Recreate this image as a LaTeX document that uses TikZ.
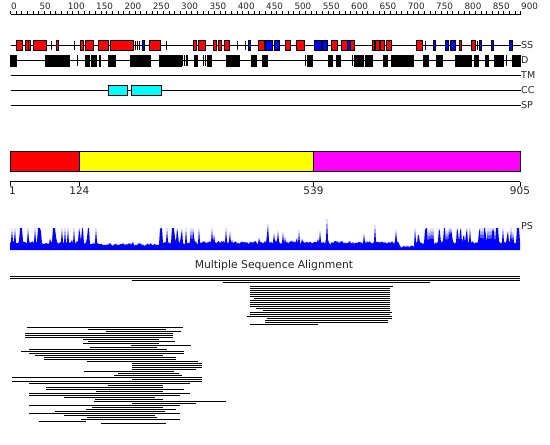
\documentclass[tikz,border=0pt]{standalone}
\usepackage{fontspec}
\setmainfont{DejaVu Sans}
\definecolor{ssred}{RGB}{255,0,0}
\definecolor{ssblue}{RGB}{0,0,255}
\definecolor{cccyan}{RGB}{0,255,255}
\definecolor{dmyellow}{RGB}{255,255,0}
\definecolor{dmmagenta}{RGB}{255,0,255}
\begin{document}
\begin{tikzpicture}[x=1pt,y=-1pt,
  trk/.style={line width=1pt,black},
  boxd/.style={draw=black,line width=0.8pt},
  bar/.style={line width=0.9pt,black},
  msa/.style={line width=1pt,black},
  rlab/.style={anchor=base west,inner sep=0pt,font=\fontsize{8.8}{9}\selectfont,text=black!85},
  tlab/.style={anchor=west,inner sep=0pt,font=\fontsize{9.5}{11}\selectfont,text=black!85},
  dlab/.style={anchor=center,inner sep=0pt,font=\fontsize{10.5}{12}\selectfont,text=black!85},
  declare function={
    psB(\t)=(\t<42)?6:((\t<50)?5:((\t<88)?6:((\t<100)?5:((\t<160)?4:((\t<200)?6:((\t<400)?6:((\t<415)?2:6)))))));
    psP(\t)=(\t<42)?0.4:((\t<50)?0.05:((\t<88)?0.55:((\t<100)?0.2:((\t<160)?0.06:((\t<200)?0.45:((\t<400)?0.14:((\t<415)?0:0.45)))))));
    psS(\t)=(\t<42)?32:((\t<50)?8:((\t<88)?32:((\t<100)?20:((\t<160)?8:((\t<200)?32:((\t<400)?17:((\t<415)?0:32)))))));
    pk(\t)=max(31*max(0,1-abs(\t-327)/1.5),26*max(0,1-abs(\t-268)/1.5),25*max(0,1-abs(\t-375)/1.5),22*max(0,1-abs(\t-96)/1.5),22*max(0,1-abs(\t-212)/1.5));
  }]
\useasboundingbox[fill=white] (0,0) rectangle (550,445);

% ---- ruler ----
\draw[line width=0.8pt] (10.5,14) -- (520.5,14);
\foreach \r in {0,10,...,900} \draw[line width=0.7pt] ({10.5+\r*0.5667},14) -- ++(0,-3);
\foreach \r in {0,50,...,900} \node[rlab] (rl\r) at ({11+\r*0.5667},9.5) {\r};

% ---- track lines ----
\draw[trk] (10.5,45) -- (520.5,45);
\draw[trk] (10.5,60.5) -- (520.5,60.5);
\draw[trk] (10.5,75) -- (520.5,75);
\draw[trk] (10.5,90) -- (520.5,90);
\draw[trk] (10.5,105) -- (520.5,105);
\node[tlab] (lss) at (521,45) {SS};
\node[tlab] (ld) at (521,60.5) {D};
\node[tlab] (ltm) at (521,75) {TM};
\node[tlab] (lcc) at (521,90) {CC};
\node[tlab] (lsp) at (521,105) {SP};

% ---- SS ----
\foreach \a/\b in {16.7/22.3,25.3/28,28.3/30.7,33.3/46.7,56.5/58.5,80/83.3,85/93.7,98.7/108.7,110.3/133.7,149.3/160.7,193.3/196.7,198.3/205.7,213/216.7,218.3/221.7,224.3/229.7,258.3/264.3,285/290.7,296.7/304.3,331.7/337.3,341.7/347.3,350.7/354,372/374.3,375.3/379.7,380.3/384.7,386/391,416.7/422.3,459.3/461,471.3/475.7}
  \filldraw[boxd,fill=ssred] (\a,40.5) rectangle (\b,50);
\foreach \a/\b in {142.7/144,248.3/250.3,265.7/272.7,274.3/279,314.3/321.7,322.3/327.3,347.7/350.3,433.3/435.7,445/448.3,450.3/455.7,479/481.7,491/493.7,509.3/512}
  \filldraw[boxd,fill=ssblue] (\a,40.5) rectangle (\b,50);
\foreach \x in {51.7,74.7,135,137,139,166.7,237.7,245.7,425,477.3}
  \draw[bar] (\x,40.5) -- (\x,50);

% ---- D ----
\foreach \a/\b in {10.5/16.7,45/69.7,85/89.3,91/96,99.3/100.7,108/115.7,130/150,159.3/181,194/197,207/211.7,226/239.7,251/256.7,262/267,307.7/312.7,328.7/332.7,336.7/340.3,354.7/363.3,365/372.3,383.3/387.3,391/405,406.7/413.3,423/428.7,436/442.3,455/471,474/478.3,485/488,494/503.3,512.7/520.5}
  \filldraw[boxd,fill=black] (\a,55) rectangle (\b,66);
\foreach \x in {77.3,182.5,184.3,186.1,187.9,203.3,205.3,305,352.3,506}
  \draw[bar] (\x,55) -- (\x,66);

% ---- CC ----
\filldraw[boxd,fill=cccyan] (108.3,85) rectangle (127.7,95);
\filldraw[boxd,fill=cccyan] (131.3,85) rectangle (161.7,95);

% ---- domain bar ----
\filldraw[boxd,fill=ssred] (10,151) rectangle (79.4,171);
\filldraw[boxd,fill=dmyellow] (79.4,151) rectangle (313.5,171);
\filldraw[boxd,fill=dmmagenta] (313.5,151) rectangle (520,171);
\draw[line width=0.8pt] (10,181.5) -- (520,181.5);
\foreach \x in {10,79.4,313.5,520} \draw[line width=0.8pt] (\x,181.5) -- (\x,186);
\node[dlab] (d1) at (12.5,191) {1};
\node[dlab] (d124) at (79.4,191) {124};
\node[dlab] (d539) at (313.5,191) {539};
\node[dlab] (d905) at (520,191) {905};

% ---- PS profile ----
\pgfmathsetseed{4711}
\fill[ssblue] (10,250) -- plot[domain=10:520,samples=511,variable=\t] (\t,{250-max(min(22,psB(\t)+3*rnd+(rnd<psP(\t))*psS(\t)*rnd),pk(\t))}) -- (520,250) -- cycle;
\node[tlab] (lps) at (521,226) {PS};

% ---- MSA ----
\node[dlab,font=\fontsize{10.8}{12}\selectfont] (msat) at (274,266) {Multiple Sequence Alignment};
\foreach \y/\a/\b in {276/10/520,278/10/520,280/132/520,282/223/430}
  \draw[msa] (\a,\y) -- (\b,\y);
\foreach \a/\b [count=\i from 0] in {250/393,250/390,250/390,250/390,250/390,250/390,254/390,250/390,250/390,250/390,250/390,256/390,263/390,250/392,250/390,247/392,267/392,265/388,265/388,250/318}
  \draw[msa] (\a,{286+2*\i}) -- (\b,{286+2*\i});
\foreach \a/\b [count=\i from 0] in {26.7/183.3,88/166,106/181,25/173,25/173,25/173,83/159,88/175,83/159,131/191,90/157,29/167,21/184,29/184,35/163,44/176,44/176,87/198,132/202,132/202,132/202,132/196,84/174,118/179,114/182,12/202,132/202,12/202,29/190,108/163,46/163,46/184,96/163,29/190,29/180,64/155,95/163,94/226,132/196,29/180,92/163,86/176,55/165,29/180,64/155,87/157,81/180,39/86,101/166}
  \draw[msa] (\a,{327+2*\i}) -- (\b,{327+2*\i});
\end{tikzpicture}
\end{document}
